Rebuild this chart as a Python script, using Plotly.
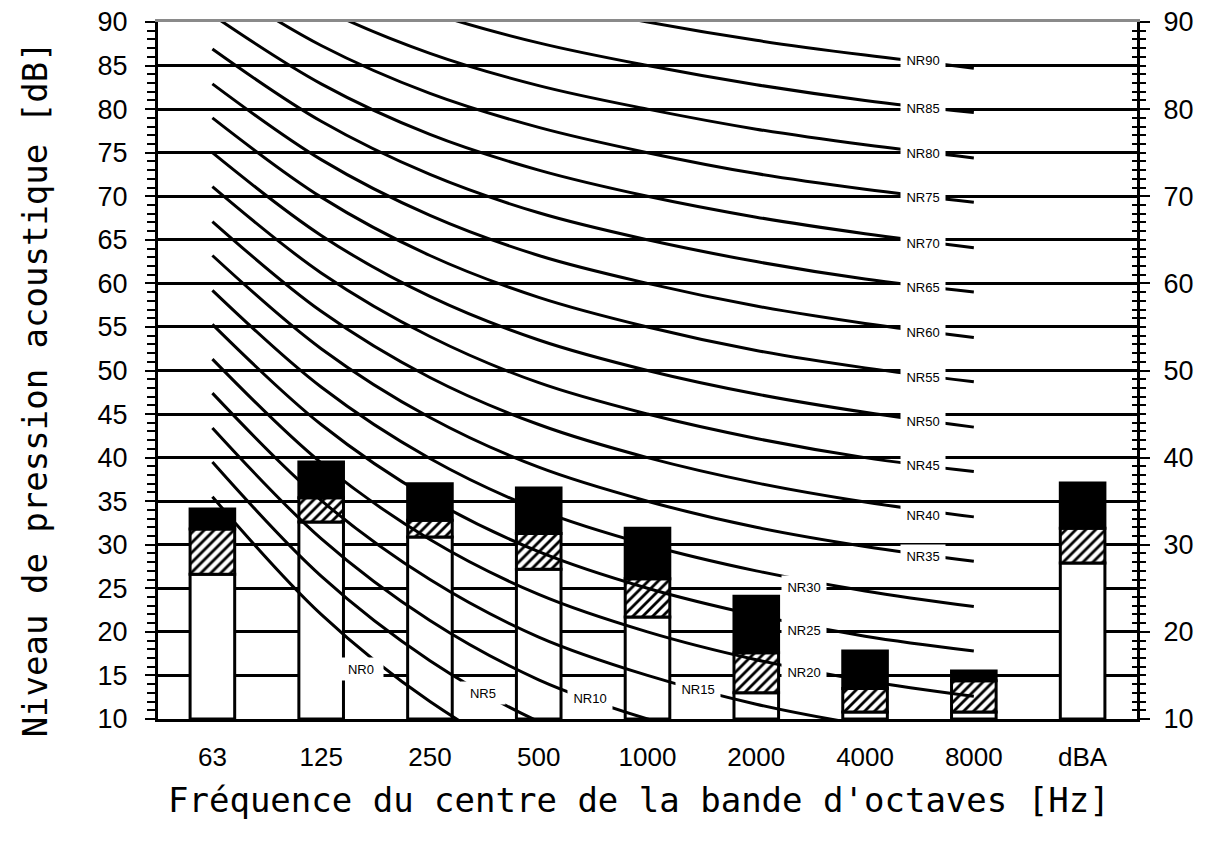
import plotly.graph_objects as go

# ---------------- data ----------------
categories = ["63", "125", "250", "500", "1000", "2000", "4000", "8000", "dBA"]
octave_bands = categories[:8]

# stacked bar levels (tops of each segment, dB); bars start at 10 dB
white_top = [26.6, 32.6, 30.9, 27.2, 21.7, 13.0, 10.8, 10.8, 27.9]
hatch_top = [31.8, 35.4, 32.8, 31.3, 26.1, 17.6, 13.5, 14.4, 31.9]
black_top = [34.1, 39.5, 37.0, 36.5, 31.9, 24.1, 17.8, 15.5, 37.1]

# NR curves: level (dB) at 63 ... 8000 Hz
nr_names = ["NR0", "NR5", "NR10", "NR15", "NR20", "NR25", "NR30", "NR35", "NR40", "NR45",
            "NR50", "NR55", "NR60", "NR65", "NR70", "NR75", "NR80", "NR85", "NR90"]
nr0 = [35.5, 22.0, 12.0, 4.8, 0.0, -3.5, -6.1, -8.0]
nr5 = [39.5, 26.4, 16.7, 9.7, 5.0, 1.6, -1.0, -2.9]
nr10 = [43.4, 30.7, 21.3, 14.5, 10.0, 6.7, 4.2, 2.3]
nr15 = [47.4, 35.1, 26.0, 19.4, 15.0, 11.7, 9.3, 7.5]
nr20 = [51.3, 39.4, 30.6, 24.3, 20.0, 16.8, 14.4, 12.6]
nr25 = [55.3, 43.8, 35.3, 29.2, 25.0, 21.9, 19.5, 17.8]
nr30 = [59.2, 48.1, 39.9, 34.0, 30.0, 27.0, 24.7, 22.9]
nr35 = [63.2, 52.5, 44.6, 38.9, 35.0, 32.0, 29.8, 28.1]
nr40 = [67.1, 56.8, 49.2, 43.8, 40.0, 37.1, 34.9, 33.2]
nr45 = [71.1, 61.2, 53.9, 48.6, 45.0, 42.2, 40.0, 38.4]
nr50 = [75.0, 65.5, 58.5, 53.5, 50.0, 47.3, 45.2, 43.5]
nr55 = [79.0, 69.9, 63.2, 58.4, 55.0, 52.3, 50.3, 48.7]
nr60 = [82.9, 74.2, 67.8, 63.2, 60.0, 57.4, 55.4, 53.8]
nr65 = [86.9, 78.6, 72.5, 68.1, 65.0, 62.5, 60.5, 59.0]
nr70 = [90.8, 82.9, 77.1, 73.0, 70.0, 67.6, 65.7, 64.1]
nr75 = [94.8, 87.3, 81.8, 77.9, 75.0, 72.6, 70.8, 69.3]
nr80 = [98.7, 91.6, 86.4, 82.7, 80.0, 77.7, 75.9, 74.4]
nr85 = [102.7, 96.0, 91.1, 87.6, 85.0, 82.8, 81.0, 79.6]
nr90 = [106.6, 100.3, 95.7, 92.5, 90.0, 87.9, 86.2, 84.7]
nr_curves = [nr0, nr5, nr10, nr15, nr20, nr25, nr30, nr35, nr40, nr45,
             nr50, nr55, nr60, nr65, nr70, nr75, nr80, nr85, nr90]

# label placement (category index, dB)
nr_label_pos = [(1.37, 15.7), (2.49, 13.0), (3.47, 12.4), (4.46, 13.4), (5.44, 15.4),
                (5.44, 20.2), (5.44, 25.1), (6.53, 28.7), (6.53, 33.4), (6.53, 39.1),
                (6.53, 44.2), (6.53, 49.2), (6.53, 54.4), (6.53, 59.6), (6.53, 64.6),
                (6.53, 69.9), (6.53, 75.0), (6.53, 80.1), (6.53, 85.6)]

y_left_ticks = list(range(10, 95, 5))
y_right_ticks = list(range(10, 100, 10))
grid_vals = list(range(15, 90, 5))

# ---------------- figure ----------------
fig = go.Figure()
base_level = 10
bar_w = 0.41
outline = dict(color="black", width=3)

fig.add_trace(go.Bar(
    x=categories, y=[w - base_level for w in white_top], base=base_level,
    width=bar_w, marker=dict(color="white", line=outline), hoverinfo="skip"))
fig.add_trace(go.Bar(
    x=categories, y=[h - w for h, w in zip(hatch_top, white_top)], base=white_top,
    width=bar_w,
    marker=dict(color="white", line=outline,
                pattern=dict(shape="/", fgcolor="black", bgcolor="white", size=7, solidity=0.4)),
    hoverinfo="skip"))
fig.add_trace(go.Bar(
    x=categories, y=[b - h for b, h in zip(black_top, hatch_top)], base=hatch_top,
    width=bar_w, marker=dict(color="black", line=outline), hoverinfo="skip"))

for name, vals in zip(nr_names, nr_curves):
    fig.add_trace(go.Scatter(
        x=octave_bands, y=vals, mode="lines", name=name,
        line=dict(color="black", width=3, shape="spline"), hoverinfo="skip"))

annotations = []
for name, (lx, ly) in zip(nr_names, nr_label_pos):
    annotations.append(dict(
        x=lx, y=ly, xref="x", yref="y", text=name, showarrow=False,
        bgcolor="white", width=42, height=20, borderpad=1,
        font=dict(family="Liberation Sans", size=13, color="black")))

annotations.append(dict(
    x=-0.1256, y=0.473, xref="paper", yref="paper", xanchor="center", yanchor="middle",
    text="Niveau de pression acoustique [dB]", textangle=-90, showarrow=False,
    font=dict(family="DejaVu Sans Mono", size=34, color="black")))
annotations.append(dict(
    x=0.491, y=-0.116, xref="paper", yref="paper", xanchor="center", yanchor="middle",
    text="Fréquence du centre de la bande d'octaves [Hz]", showarrow=False,
    font=dict(family="DejaVu Sans Mono", size=34, color="black")))

tickfont = dict(family="Liberation Sans", color="black")

fig.update_layout(
    template="none",
    width=1200, height=835,
    margin=dict(l=150, r=71, t=14, b=124, autoexpand=False),
    paper_bgcolor="white", plot_bgcolor="white",
    showlegend=False, barmode="overlay",
    annotations=annotations,
    xaxis=dict(type="category", categoryorder="array", categoryarray=categories,
               range=[-0.5, 8.5], showline=True, linecolor="black", linewidth=3,
               ticks="", showgrid=False, zeroline=False, automargin=False,
               ticklabeloverflow="allow",
               tickfont=dict(size=26, **tickfont), ticklabelstandoff=13),
    xaxis2=dict(overlaying="x", side="top", range=[0, 1], showline=True,
                linecolor="#8a8a8a", linewidth=3, ticks="", showticklabels=False,
                showgrid=False, zeroline=False, automargin=False),
    yaxis=dict(range=[10, 90], tickvals=y_left_ticks, ticks="outside", ticklen=10,
               tickwidth=2, tickcolor="black",
               minor=dict(dtick=1, ticks="outside", ticklen=8, tickwidth=2,
                          tickcolor="black", showgrid=False),
               showline=True, linecolor="black", linewidth=3, showgrid=False,
               zeroline=False, automargin=False, ticklabeloverflow="allow",
               tickfont=dict(size=27, **tickfont), ticklabelstandoff=12),
    yaxis2=dict(overlaying="y", side="right", range=[10, 90], tickvals=y_right_ticks,
                ticks="outside", ticklen=10, tickwidth=2, tickcolor="black",
                minor=dict(dtick=1, ticks="outside", ticklen=6, tickwidth=2,
                           tickcolor="black", showgrid=False),
                showline=True, linecolor="black", linewidth=3, showgrid=False,
                zeroline=False, automargin=False, ticklabeloverflow="allow",
                tickfont=dict(size=27, **tickfont), ticklabelstandoff=8),
    yaxis3=dict(overlaying="y", side="right", range=[10, 90], tickvals=y_right_ticks,
                ticks="inside", ticklen=7, tickwidth=2, tickcolor="black",
                minor=dict(dtick=1, ticks="inside", ticklen=5, tickwidth=2,
                           tickcolor="black", showgrid=False),
                showline=False, showgrid=False, zeroline=False, showticklabels=False,
                automargin=False),
    yaxis4=dict(overlaying="y", side="left", range=[10, 90], tickvals=grid_vals,
                ticks="", showticklabels=False, showline=False, zeroline=False,
                showgrid=True, gridcolor="black", gridwidth=3, automargin=False),
)

# dummy invisible traces so overlay axes render
fig.add_trace(go.Scatter(x=[None], y=[None], xaxis="x2", yaxis="y2", hoverinfo="skip"))
fig.add_trace(go.Scatter(x=[None], y=[None], xaxis="x", yaxis="y3", hoverinfo="skip"))
fig.add_trace(go.Scatter(x=[None], y=[None], xaxis="x", yaxis="y4", hoverinfo="skip"))

fig.write_html("out.html")
